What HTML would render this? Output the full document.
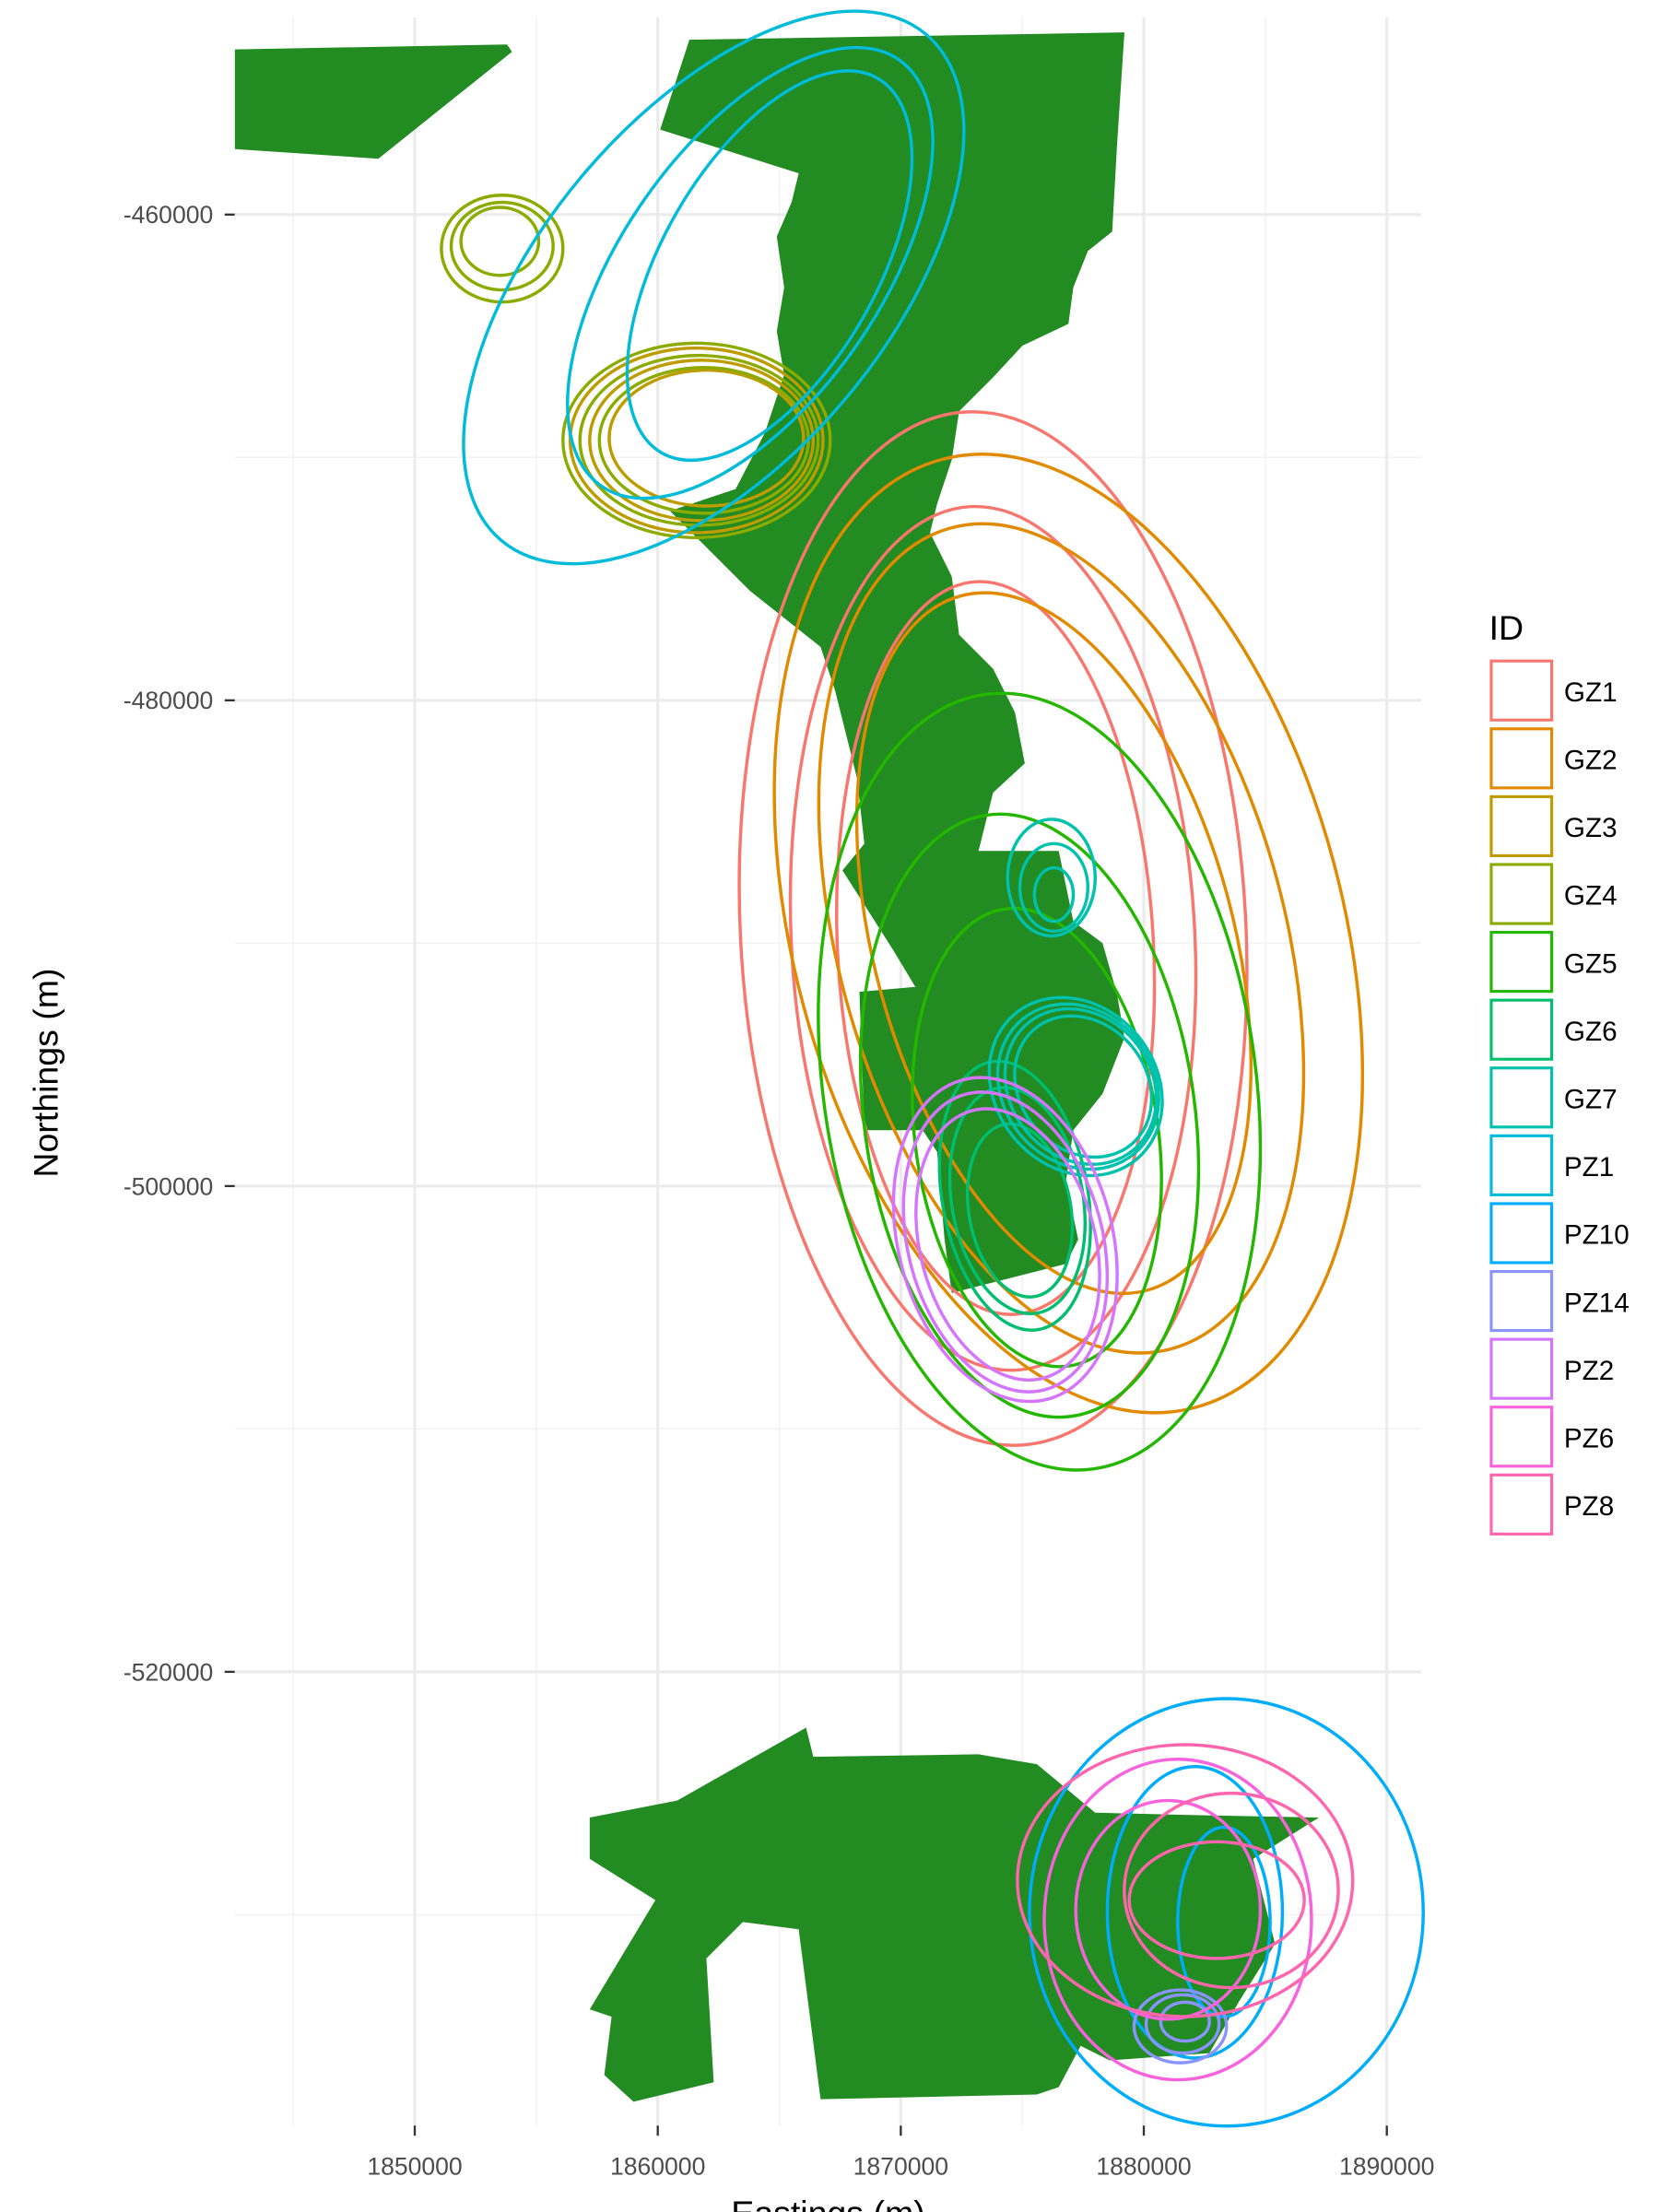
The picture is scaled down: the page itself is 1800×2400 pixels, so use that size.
<!DOCTYPE html>
<html><head><meta charset="utf-8"><style>
html,body{margin:0;padding:0;background:#fff;}
svg{display:block;font-family:"Liberation Sans",Arial,sans-serif;}
</style></head><body>
<svg id="chart" width="1800" height="2400" viewBox="0 0 1152 1536" xmlns="http://www.w3.org/2000/svg">
<rect x="0" y="0" width="1152" height="1536" fill="#fff"/>
<g id="grid"></g>
<g id="land"></g>
<g id="contours"></g>
<g id="axes"></g>
<g id="legend"></g>
<text x="575" y="1545" text-anchor="middle" font-size="24" fill="#000">Eastings (m)</text>
<text x="0" y="0" transform="translate(40,745) rotate(-90)" text-anchor="middle" font-size="24" fill="#000">Northings (m)</text>
</svg>
<script>
const xTicks = [1850000, 1860000, 1870000, 1880000, 1890000];
const xTickLabels = ["1850000","1860000","1870000","1880000","1890000"];
const xMinor = [1845000, 1855000, 1865000, 1875000, 1885000];
const yTicks = [-460000, -480000, -500000, -520000];
const yTickLabels = ["-460000","-480000","-500000","-520000"];
const yMinor = [-470000, -490000, -510000, -530000];

const ids = ["GZ1","GZ2","GZ3","GZ4","GZ5","GZ6","GZ7","PZ1","PZ10","PZ14","PZ2","PZ6","PZ8"];
const colors = ["#F8766D","#E18A00","#BE9C00","#8CAB00","#24B700","#00BE70","#00C1AB","#00BBDA","#00ACFC","#8B93FF","#D575FE","#F962DD","#FF65AC"];

const landTopLeft = [[1842.6,-453.2],[1853.8,-453.0],[1854.0,-453.3],[1848.5,-457.7],[1842.6,-457.3]];
const landNorth = [[1861.3,-452.8],[1879.2,-452.5],[1878.9,-457.1],[1878.7,-460.7],[1877.7,-461.5],[1877.1,-463.0],[1876.9,-464.5],[1875.0,-465.4],[1873.8,-466.7],[1872.4,-468.1],[1872.1,-470.1],[1871.5,-471.9],[1871.2,-473.1],[1872.1,-474.9],[1872.4,-477.3],[1873.8,-478.7],[1874.7,-480.5],[1875.1,-482.6],[1873.8,-483.8],[1873.2,-486.2],[1876.5,-486.2],[1877.1,-489.1],[1878.3,-490.0],[1878.9,-492.1],[1879.2,-493.9],[1878.3,-496.2],[1877.1,-497.7],[1876.8,-499.8],[1877.3,-502.2],[1876.8,-503.2],[1872.1,-504.4],[1871.8,-502.2],[1871.5,-498.6],[1870.9,-497.7],[1868.5,-497.7],[1868.3,-492.0],[1870.6,-491.8],[1869.7,-490.3],[1867.6,-487.0],[1868.5,-485.9],[1868.2,-483.2],[1867.3,-479.6],[1866.7,-477.8],[1863.8,-475.5],[1860.5,-472.2],[1863.2,-471.3],[1864.4,-469.0],[1865.2,-466.6],[1864.9,-464.8],[1865.2,-463.0],[1864.9,-460.9],[1865.5,-459.5],[1865.8,-458.3],[1860.1,-456.5]];
const landSouth = [[1857.2,-526.0],[1860.8,-525.3],[1866.1,-522.3],[1866.4,-523.5],[1873.2,-523.4],[1875.6,-523.8],[1878.0,-525.8],[1882.1,-525.9],[1887.2,-526.0],[1884.5,-527.7],[1885.4,-531.2],[1883.9,-533.6],[1882.7,-535.7],[1878.6,-536.0],[1877.4,-535.4],[1876.5,-537.1],[1875.6,-537.4],[1866.7,-537.6],[1865.8,-530.6],[1863.5,-530.3],[1862.0,-531.8],[1862.3,-536.9],[1859.0,-537.7],[1857.8,-536.6],[1858.1,-534.2],[1857.2,-533.9],[1859.9,-529.4],[1857.2,-527.7]];

// contour levels: [centerE km, centerN km, radiusE km, radiusN km, rotation deg]
const cGZ1 = [[1873.8,-489.4,10.4,21.3,-3],[1873.8,-489.8,8.3,17.8,-3],[1873.9,-490.2,6.5,15.1,-3]];
const cGZ2 = [[1876.9,-489.6,11.3,20.2,-15],[1876.6,-489.8,9.2,17.5,-15],[1876.3,-490.0,7.4,14.8,-15]];
const cGZ3 = [[1861.6,-469.3,5.2,3.8,0],[1861.8,-469.3,4.6,3.3,0],[1862.0,-469.2,4.0,2.8,0]];
const cGZ4 = [[1853.6,-461.4,2.5,2.2,0],[1853.6,-461.3,2.1,1.8,0],[1853.5,-461.1,1.6,1.4,0],[1861.6,-469.3,5.5,4.0,0],[1861.7,-469.3,4.9,3.5,0],[1861.9,-469.3,4.3,3.0,0]];
const cGZ5 = [[1875.7,-495.7,8.9,16.1,-8],[1875.3,-497.1,6.8,12.5,-8],[1875.6,-498.0,5.0,9.5,-8]];
const cGZ6 = [[1874.7,-500.4,3.0,5.6,-10],[1874.8,-500.6,2.7,4.7,-10],[1874.9,-501.0,2.1,3.6,-10]];
const cGZ7 = [[1876.2,-487.3,1.8,2.4,0],[1876.3,-487.7,1.4,1.8,0],[1876.3,-488.0,0.8,1.1,0],[1877.2,-495.9,3.3,3.9,-40],[1877.3,-495.9,3.1,3.6,-40],[1877.4,-495.9,2.9,3.4,-40],[1877.5,-495.9,2.6,3.1,-40]];
const cPZ1 = [[1862.3,-463.0,7.1,13.6,40],[1863.8,-462.4,5.3,10.7,35],[1864.6,-462.1,4.4,8.9,30]];
const cPZ10 = [[1883.4,-529.9,8.1,8.8,0],[1882.1,-529.9,3.6,6.0,0],[1883.3,-530.3,1.9,3.9,0]];
const cPZ14 = [[1881.5,-534.6,1.9,1.5,0],[1881.6,-534.5,1.5,1.2,0],[1881.7,-534.4,1.0,0.8,0]];
const cPZ2 = [[1874.3,-502.2,4.4,6.8,-15],[1874.3,-502.3,4.0,6.3,-15],[1874.4,-502.4,3.6,5.7,-15]];
const cPZ6 = [[1881.4,-530.2,5.5,6.6,0],[1881.0,-529.8,3.8,4.5,0]];
const cPZ8 = [[1881.7,-528.6,6.9,5.6,0],[1883.6,-529.0,4.4,4.0,0],[1883.0,-529.4,3.6,2.4,0]];
const contourSets = [cGZ1,cGZ2,cGZ3,cGZ4,cGZ5,cGZ6,cGZ7,cPZ1,cPZ10,cPZ14,cPZ2,cPZ6,cPZ8];

const PX = 16.875, PY = 16.865;
function sx(eKm){ return 288 + (eKm - 1850) * PX; }
function sy(nKm){ return 149 + (-460 - nKm) * PY; }
const panel = {x0:163, x1:987, y0:12, y1:1476};
const NS = "http://www.w3.org/2000/svg";
function mk(tag, attrs, parent){ const e=document.createElementNS(NS,tag); for(const k in attrs) e.setAttribute(k,attrs[k]); parent.appendChild(e); return e; }

const grid = document.getElementById('grid');
xMinor.forEach(v=>{ const l=mk('line',{x1:sx(v/1000),x2:sx(v/1000),y1:panel.y0,y2:panel.y1,stroke:'#f2f2f2','stroke-width':1},grid);

 });
yMinor.forEach(v=>{ const l=mk('line',{x1:panel.x0,x2:panel.x1,y1:sy(v/1000),y2:sy(v/1000),stroke:'#f2f2f2','stroke-width':1},grid);

 });
xTicks.forEach(v=>{ const l=mk('line',{x1:sx(v/1000),x2:sx(v/1000),y1:panel.y0,y2:panel.y1,stroke:'#ebebeb','stroke-width':2},grid);

 });
yTicks.forEach(v=>{ const l=mk('line',{x1:panel.x0,x2:panel.x1,y1:sy(v/1000),y2:sy(v/1000),stroke:'#ebebeb','stroke-width':2},grid);

 });

const land = document.getElementById('land');
[[landTopLeft,'landmass-northwest'],[landNorth,'landmass-north'],[landSouth,'landmass-south']].forEach(([pts,name])=>{
  const p=mk('polygon',{points:pts.map(q=>sx(q[0]).toFixed(1)+','+sy(q[1]).toFixed(1)).join(' '),fill:'#228B22'},land);
  
  
});

const cg = document.getElementById('contours');
contourSets.forEach((set,i)=>{
  set.forEach(c=>{
    const cx=sx(c[0]), cy=sy(c[1]);
    const e=mk('ellipse',{cx:cx.toFixed(1),cy:cy.toFixed(1),rx:(c[2]*PX).toFixed(1),ry:(c[3]*PY).toFixed(1),transform:'rotate('+c[4]+' '+cx.toFixed(1)+' '+cy.toFixed(1)+')',fill:'none',stroke:colors[i],'stroke-width':2.2},cg);
    
    
  });
});

const ax = document.getElementById('axes');
xTicks.forEach((v,i)=>{
  const x=sx(v/1000);
  const t=mk('line',{x1:x,x2:x,y1:panel.y1,y2:panel.y1+7,stroke:'#333','stroke-width':1.5},ax);
  
  
  const tx=mk('text',{x:x,y:1510,'text-anchor':'middle','font-size':17,fill:'#4d4d4d'},ax);
  tx.textContent=xTickLabels[i];
  
  
});
yTicks.forEach((v,i)=>{
  const y=sy(v/1000);
  const t=mk('line',{x1:panel.x0-7,x2:panel.x0,y1:y,y2:y,stroke:'#333','stroke-width':1.5},ax);
  
  
  const tx=mk('text',{x:148,y:y+6,'text-anchor':'end','font-size':17,fill:'#4d4d4d'},ax);
  tx.textContent=yTickLabels[i];
  
  
});

const lg = document.getElementById('legend');
const lt=mk('text',{x:1034,y:444,'font-size':24,fill:'#000'},lg);
lt.textContent='ID';


ids.forEach((id,i)=>{
  const y=459+i*47.1;
  const r=mk('rect',{x:1035.5,y:y,width:42,height:41,fill:'#fff',stroke:colors[i],'stroke-width':2},lg);
  
  
  const t=mk('text',{x:1086,y:y+28,'font-size':19,fill:'#000'},lg);
  t.textContent=id;
  
  
});
</script>
</body></html>
